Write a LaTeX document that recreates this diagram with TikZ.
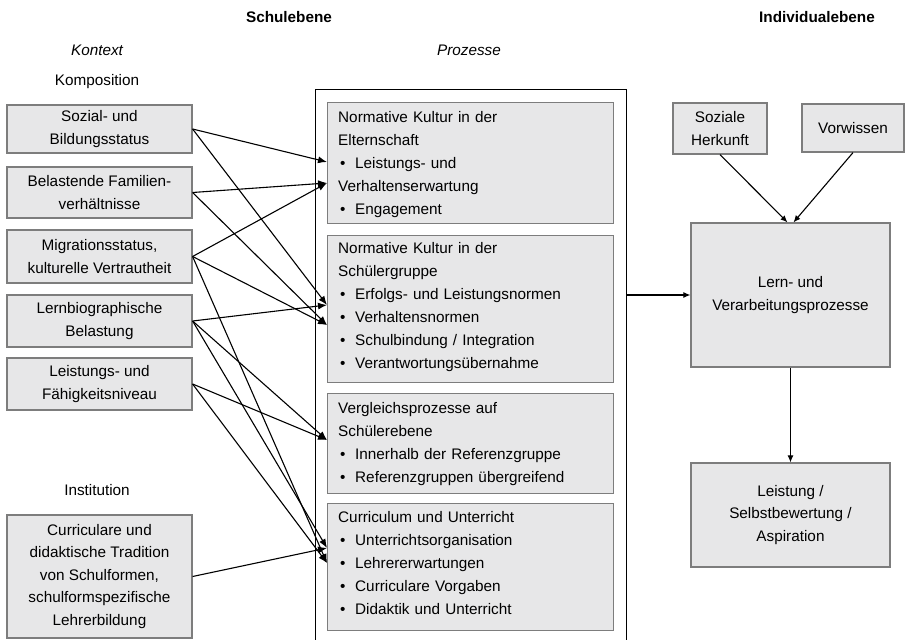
\documentclass[tikz,border=0pt]{standalone}
\usepackage{fontspec}
\setmainfont{Liberation Sans}
\usetikzlibrary{arrows.meta}

\definecolor{boxfill}{RGB}{231,231,232}
\definecolor{boxline}{RGB}{125,125,125}
% Aufzaehlungspunkt mit haengendem Einzug
\newcommand{\bul}[1]{\par\noindent\hangindent=17pt\hangafter=1\hbox to 17pt{\hskip2pt\textbullet\hfil}#1}

\begin{document}
\begin{tikzpicture}[x=1pt,y=-1pt,
    every node/.style={font=\fontsize{15.3}{22.5}\selectfont,inner sep=0pt},
    kbox/.style={draw=boxline,fill=boxfill,line width=1.2pt,minimum width=185,align=center},
    pbox/.style={draw=boxline,fill=boxfill,line width=1.2pt,minimum width=286,anchor=north west},
    ptext/.style={text width=272,align=left,anchor=north west,font=\fontsize{15.3}{23}\selectfont},
    ibox/.style={draw=boxline,fill=boxfill,line width=1.2pt,align=center},
    pfeil/.style={line width=1.1pt,-{Latex[length=9pt,width=7pt]}},
    pfeilr/.style={line width=1.1pt,-{Latex[length=7pt,width=6pt]}}]
  \useasboundingbox (0,0) rectangle (906,640);

  % Ueberschriften
  \node (schule) at (289,17) {\bfseries Schulebene};
  \node (indiv) at (817,17) {\bfseries Individualebene};
  \node (kontext) at (97,50) {\itshape Kontext};
  \node (prozesse) at (469,50) {\itshape Prozesse};
  \node (kompos) at (97,82) {Komposition};
  \node (inst) at (97,490) {Institution};

  % Kontext
  \node[kbox,minimum height=48] (sozial) at (99.5,129) {Sozial- und\\Bildungsstatus};
  \node[kbox,minimum height=51] (belast) at (99.5,192.5) {Belastende Familien-\\verhältnisse};
  \node[kbox,minimum height=53] (migra) at (99.5,256.5) {Migrationsstatus,\\kulturelle Vertrautheit};
  \node[kbox,minimum height=52] (lernbio) at (99.5,321) {Lernbiographische\\Belastung};
  \node[kbox,minimum height=52] (leist) at (99.5,384) {Leistungs- und\\Fähigkeitsniveau};
  \node[kbox,minimum height=123] (curric) at (99.5,576.5) {Curriculare und\\didaktische Tradition\\von Schulformen,\\schulformspezifische\\Lehrerbildung};

  % Prozesse
  \node[draw,line width=1.2pt,minimum width=311,minimum height=570,anchor=north west] (proz) at (315,89) {};
  \node[pbox,minimum height=121] (eltern) at (327,102) {};
  \node[ptext] (eltern-t) at (338,111) {Normative Kultur in der\\Elternschaft
    \bul{Leistungs- und\\Verhaltenserwartung}
    \bul{Engagement}};
  \node[pbox,minimum height=147] (schueler) at (327,235) {};
  \node[ptext] (schueler-t) at (338,242) {Normative Kultur in der\\Schülergruppe
    \bul{Erfolgs- und Leistungsnormen}
    \bul{Verhaltensnormen}
    \bul{Schulbindung / Integration}
    \bul{Verantwortungsübernahme}};
  \node[pbox,minimum height=100] (vergl) at (327,393) {};
  \node[ptext] (vergl-t) at (338,402) {Vergleichsprozesse auf\\Schülerebene
    \bul{Innerhalb der Referenzgruppe}
    \bul{Referenzgruppen übergreifend}};
  \node[pbox,minimum height=127] (unterr) at (327,503) {};
  \node[ptext] (unterr-t) at (338,511) {Curriculum und Unterricht
    \bul{Unterrichtsorganisation}
    \bul{Lehrererwartungen}
    \bul{Curriculare Vorgaben}
    \bul{Didaktik und Unterricht}};

  % Individualebene
  \node[ibox,minimum width=94,minimum height=51] (herkunft) at (720,128.5) {Soziale\\Herkunft};
  \node[ibox,minimum width=102,minimum height=48] (vorw) at (853,128) {Vorwissen};
  \node[ibox,minimum width=199,minimum height=144] (lern) at (790.5,295) {Lern- und\\Verarbeitungsprozesse};
  \node[ibox,minimum width=199,minimum height=104] (ergebnis) at (790.5,515) {Leistung /\\Selbstbewertung /\\Aspiration};

  % Andockpunkte
  \coordinate (elt1) at (eltern.west |- 0,162);
  \coordinate (elt2) at (eltern.west |- 0,183);
  \coordinate (sch1) at (schueler.west |- 0,305);
  \coordinate (sch2) at (schueler.west |- 0,325);
  \coordinate (ver1) at (vergl.west |- 0,440);
  \coordinate (unt1) at (unterr.west |- 0,548);
  \coordinate (unt2) at (unterr.west |- 0,563);
  \coordinate (lern1) at ([xshift=-3]lern.north);
  \coordinate (lern2) at ([xshift=3]lern.north);

  \foreach \a/\b in {sozial/elt1,sozial/sch1,belast/elt2,belast/sch2,
                     migra/elt2,migra/sch2,migra/unt2,lernbio/sch1,lernbio/ver1,
                     lernbio/unt1,leist/ver1,leist/unt2,curric/unt1}{
    \draw[pfeil] (\a.east) -- (\b);
  }

  \draw[pfeilr] (herkunft.south) -- (lern1);
  \draw[pfeilr] (vorw.south) -- (lern2);
  \draw[pfeilr] (proz.east |- lern.west) -- (lern.west);
  \draw[pfeilr] (lern.south) -- (ergebnis.north);
\end{tikzpicture}
\end{document}
